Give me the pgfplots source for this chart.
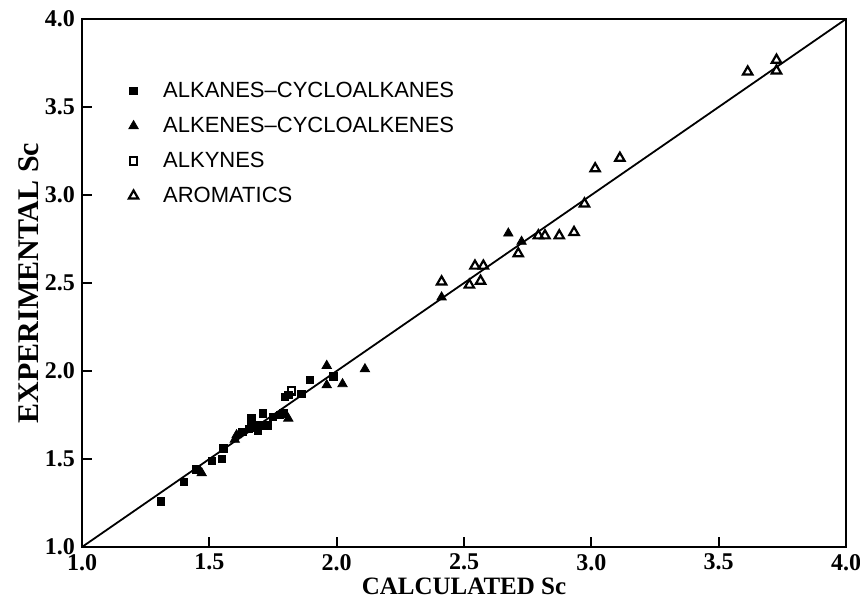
\documentclass[border=0pt]{standalone}
\usepackage{fontspec}
\setmainfont{Liberation Serif}
\newfontfamily\legfont{Liberation Sans}
\usepackage{pgfplots}
\pgfplotsset{compat=1.18}
\begin{document}
\begin{tikzpicture}
\path[use as bounding box] (-41pt,-27pt) rectangle (389pt,273.5pt);
\begin{axis}[
  scale only axis, width=382pt, height=264pt,
  xmin=1, xmax=4, ymin=1, ymax=4,
  xtick={1,1.5,2,2.5,3,3.5,4}, ytick={1,1.5,2,2.5,3,3.5,4},
  xticklabels={1.0,1.5,2.0,2.5,3.0,3.5,4.0},
  yticklabels={1.0,1.5,2.0,2.5,3.0,3.5,4.0},
  tick pos=left, tick align=inside, major tick length=5pt,
  axis line style={line width=1.3pt},
  tick style={line width=0.9pt, black},
  ticklabel style={font=\bfseries\fontsize{12}{12}\selectfont},
  xlabel={CALCULATED Sc}, ylabel={EXPERIMENTAL Sc},
  xlabel style={font=\bfseries\fontsize{12.5}{12.5}\selectfont, yshift=3pt},
  ylabel style={font=\bfseries\fontsize{15}{15}\selectfont, yshift=-4pt},
  legend image code/.code={
    \path[draw=none, fill=none] (0cm,0cm) (0.45cm,0cm);
    \draw[mark repeat=1,#1] plot coordinates {(0cm,0cm)};
  },
  legend style={draw=none, fill=none, at={(0.053,0.897)}, anchor=north west,
    font=\legfont\fontsize{11}{11}\selectfont, row sep=4.3pt},
  legend cell align=left,
]
% parity line
\addplot[black, line width=0.9pt, forget plot] coordinates {(1,1) (4,4)};

% alkanes - cycloalkanes
\addplot[only marks, mark=square*, mark size=1.9pt, black] coordinates {
  (1.31,1.26) (1.40,1.37) (1.45,1.44) (1.51,1.49) (1.55,1.50) (1.555,1.56)
  (1.63,1.655) (1.665,1.68) (1.665,1.73) (1.69,1.66) (1.70,1.69)
  (1.71,1.76) (1.705,1.69) (1.73,1.69) (1.75,1.74) (1.777,1.75)
  (1.79,1.76) (1.797,1.854) (1.81,1.864) (1.862,1.869) (1.895,1.949)
  (1.987,1.968) (1.655,1.67)
};
\addlegendentry{ALKANES–CYCLOALKANES}

% alkenes - cycloalkenes
\addplot[only marks, mark=triangle*, mark size=2.7pt, black] coordinates {
  (1.47,1.42) (1.60,1.61) (1.607,1.636) (1.81,1.73) (1.961,2.03)
  (1.961,1.92) (2.023,1.926) (2.111,2.011) (2.412,2.419)
  (2.674,2.782) (2.726,2.735)
};
\addlegendentry{ALKENES–CYCLOALKENES}

% alkynes
\addplot[only marks, mark=square, mark size=1.9pt, black, line width=1.1pt] coordinates {
  (1.823,1.888)
};
\addlegendentry{ALKYNES}

% aromatics
\addplot[only marks, mark=triangle, mark size=2.7pt, black, line width=1.1pt] coordinates {
  (2.412,2.507) (2.521,2.489) (2.565,2.511) (2.543,2.597) (2.576,2.597)
  (2.713,2.667) (2.792,2.769) (2.818,2.769) (2.874,2.769) (2.932,2.788)
  (2.973,2.950) (3.015,3.150) (3.112,3.210) (3.614,3.700)
  (3.727,3.767) (3.727,3.706)
};
\addlegendentry{AROMATICS}
\end{axis}
\end{tikzpicture}
\end{document}
